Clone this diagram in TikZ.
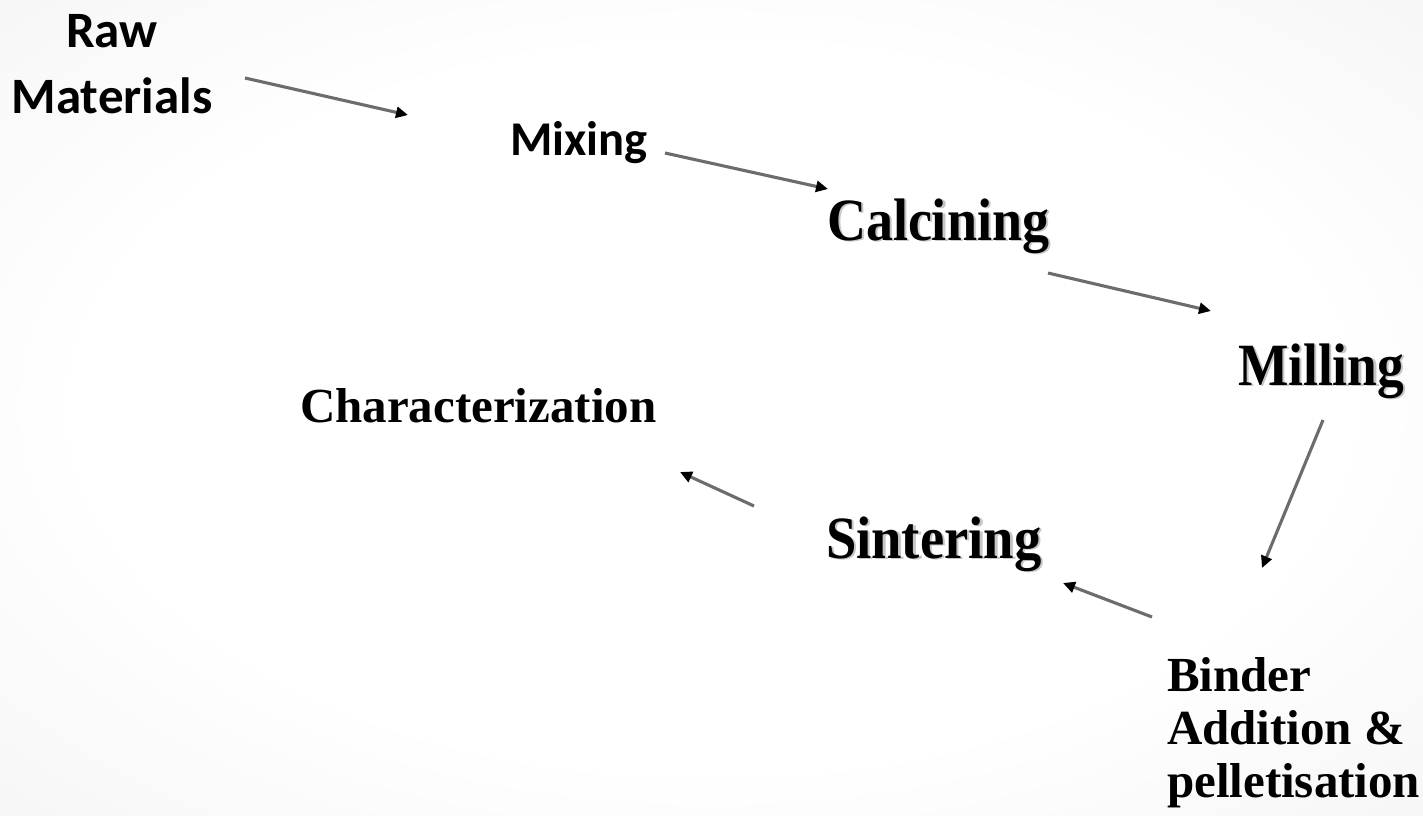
\documentclass[tikz,border=0pt]{standalone}
\usepackage{fontspec}
\setmainfont{Liberation Serif}
\newfontfamily\calib{Carlito}
\usetikzlibrary{arrows.meta}
\pgfdeclareradialshading{bgshade}{\pgfpoint{0bp}{0bp}}{color(0bp)=(white); color(22bp)=(white); color(50bp)=(gray!14); color(72bp)=(gray!22)}
\begin{document}
\begin{tikzpicture}[x=1pt,y=-1pt,
  lbl/.style={inner sep=0pt, outer sep=0pt, anchor=base west},
  sanslbl/.style={lbl, font=\calib\bfseries\fontsize{51}{66}\selectfont},
  mixlbl/.style={lbl, font=\calib\bfseries\fontsize{48.5}{60}\selectfont},
  seriflbl/.style={lbl, font=\bfseries\fontsize{60}{60}\selectfont},
  plainserif/.style={lbl, font=\bfseries\fontsize{49}{53}\selectfont},
  shadowtxt/.style={text=gray!45},
  flow/.style={draw=gray!85!black, line width=3.1pt, -{Triangle[length=12pt,width=11pt,color=black]}}]
  % background
  \useasboundingbox (0,0) rectangle (1423,815);
  \shade[shading=bgshade] (0,0) rectangle (1423,815);

  % labels
  \node[sanslbl, anchor=base, align=center] (raw) at (112,113) {Raw\\Materials};
  \node[mixlbl] (mix) at (510,155) {Mixing};

  \node[seriflbl, shadowtxt] (calcS) at (829.5,241.5) {\scalebox{0.9}[1]{Calcining}};
  \node[seriflbl] (calc) at (827,240) {\scalebox{0.9}[1]{Calcining}};

  \node[seriflbl, shadowtxt] (millS) at (1240.5,386.5) {\scalebox{0.89}[1]{Milling}};
  \node[seriflbl] (mill) at (1238,385) {\scalebox{0.89}[1]{Milling}};

  \node[seriflbl, shadowtxt] (sintS) at (828.5,559.5) {\scalebox{0.91}[1]{Sintering}};
  \node[seriflbl] (sint) at (826,558) {\scalebox{0.91}[1]{Sintering}};

  \node[plainserif] (char) at (300,422) {Characterization};
  \node[plainserif, align=left, anchor=base west] (bind) at (1167,797) {Binder\\Addition \&\\pelletisation};

  % arrow end points
  \coordinate (a1s) at (245,78);   \coordinate (a1e) at (408,115);
  \coordinate (a2s) at (665,153);  \coordinate (a2e) at (828,189);
  \coordinate (a3s) at (1048,273); \coordinate (a3e) at (1211,311);
  \coordinate (a4s) at (1323,420); \coordinate (a4e) at (1262,568);
  \coordinate (a5s) at (1152,617); \coordinate (a5e) at (1063,583);
  \coordinate (a6s) at (754,506);  \coordinate (a6e) at (680,472);

  \draw[flow] (a1s) -- (a1e);
  \draw[flow] (a2s) -- (a2e);
  \draw[flow] (a3s) -- (a3e);
  \draw[flow] (a4s) -- (a4e);
  \draw[flow] (a5s) -- (a5e);
  \draw[flow] (a6s) -- (a6e);
\end{tikzpicture}
\end{document}
